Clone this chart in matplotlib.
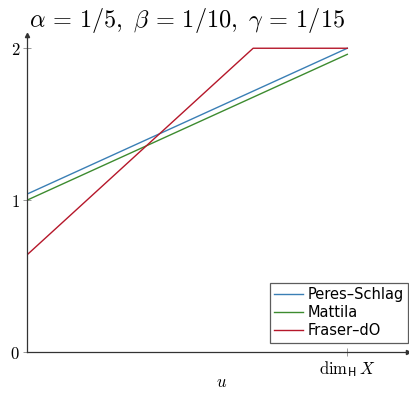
import matplotlib.pyplot as plt

plt.rcParams['mathtext.fontset'] = 'cm'

# данные
u = [0.0, 1.0]
peres_schlag = [1.04, 2.0]
mattila = [1.0, 1.96]
fraser_u = [0.0, 0.706, 1.0]
fraser_do = [0.64, 2.0, 2.0]

fig = plt.figure(figsize=(4.09, 3.97), dpi=100)
ax = fig.add_axes([0.066, 0.113, 0.932, 0.798])

ax.plot(u, peres_schlag, color='#3a7fb5', lw=1.0, label='Peres–Schlag')
ax.plot(u, mattila, color='#3d8b2f', lw=1.0, label='Mattila')
ax.plot(fraser_u, fraser_do, color='#b5172a', lw=1.0, label='Fraser–dO')

ax.set_xlim(0, 1.19)
ax.set_ylim(0, 2.085)

# оси со стрелками
for s in ['top', 'right']:
    ax.spines[s].set_visible(False)
for s in ['left', 'bottom']:
    ax.spines[s].set_color('#333333')
    ax.spines[s].set_linewidth(0.9)
ax.plot(1, 0, '>', color='#333333', ms=3, transform=ax.transAxes, clip_on=False)
ax.plot(0, 1, '^', color='#333333', ms=3, transform=ax.transAxes, clip_on=False)

ax.set_yticks([0, 1, 2])
ax.set_yticklabels(['$0$', '$1$', '$2$'], fontsize=12)
ax.set_xticks([1])
ax.set_xticklabels([r'$\mathrm{dim}_{\mathsf{H}}\,X$'], fontsize=12)
ax.tick_params(direction='inout', length=6, color='#999999', width=0.7, pad=2)

# подпись оси x
fig.text(222 / 409, 1 - 382 / 397, '$u$', fontsize=12, ha='center', va='center')
ax.set_title(r'$\alpha\,=\,1/5,\ \beta\,=\,1/10,\ \gamma\,=\,1/15$', fontsize=17.5,
             loc='left', x=0.005, pad=6)

leg = ax.legend(loc='lower right', bbox_to_anchor=(1.0, 0.03), fontsize=10.5,
                frameon=True, fancybox=False, edgecolor='#333333',
                handlelength=2.0, handletextpad=0.3, borderpad=0.3,
                labelspacing=0.2, borderaxespad=0)
leg.get_frame().set_linewidth(0.9)

plt.savefig('out.png', dpi=100)
